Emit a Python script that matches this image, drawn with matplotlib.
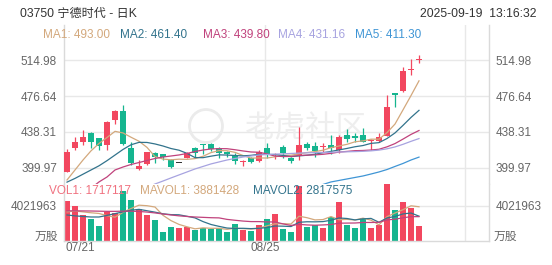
import numpy as np
import matplotlib
matplotlib.use('Agg')
import matplotlib.pyplot as plt
from matplotlib.patches import Circle

plt.rcParams['font.family'] = ['Liberation Sans', 'Noto Sans CJK SC', 'DejaVu Sans']

# ---------------- data ----------------
title = '03750 宁德时代 - 日K'
timestamp = '2025-09-19  13:16:32'
date_labels = ['07/21', '08/25']
date_index = [0, 25]

opens = [395.0, 421.4, 427.2, 437.5, 431.4, 424.3, 451.0, 460.7, 420.7, 399.1,
         403.6, 416.0, 414.3, 408.2, 405.3, 410.7, 420.7, 425.0, 425.0, 421.1,
         417.1, 413.9, 405.7, 410.0, 406.6, 421.4, 412.0, 421.8, 410.7, 413.6,
         425.0, 423.2, 422.1, 424.3, 419.0, 435.0, 434.2, 435.0, 428.6, 428.9,
         434.2, 479.6, 482.4, 505.1, 515.8]
highs = [420.0, 433.2, 440.3, 438.5, 432.0, 450.0, 461.8, 467.1, 427.8, 408.2,
         417.1, 417.1, 414.3, 409.0, 405.3, 417.1, 422.5, 425.3, 426.1, 422.1,
         418.0, 415.2, 407.7, 411.7, 419.0, 426.1, 415.4, 424.3, 411.4, 443.9,
         427.2, 427.8, 426.1, 435.0, 435.0, 441.1, 437.6, 442.2, 431.2, 437.6,
         477.8, 479.6, 508.1, 516.4, 520.6]
lows = [395.0, 419.0, 424.3, 421.0, 419.0, 419.0, 446.4, 424.3, 402.9, 397.5,
        402.9, 404.7, 408.2, 400.0, 405.3, 410.0, 410.0, 414.6, 417.8, 410.0,
        411.4, 403.9, 401.3, 405.0, 406.1, 410.4, 409.3, 410.0, 404.7, 408.2,
        419.0, 411.7, 417.1, 414.3, 415.4, 427.8, 427.8, 427.0, 419.0, 427.0,
        434.0, 465.3, 481.4, 499.2, 511.7]
closes = [417.1, 427.8, 433.2, 427.8, 423.5, 449.2, 460.7, 425.0, 404.7, 401.8,
          416.5, 411.4, 411.4, 401.0, 405.3, 415.4, 415.4, 424.0, 420.3, 416.2,
          414.6, 406.8, 407.1, 406.4, 417.1, 414.3, 413.0, 415.2, 407.1, 424.3,
          421.4, 417.8, 422.9, 420.7, 433.2, 430.4, 431.4, 427.8, 429.6, 433.2,
          465.3, 477.8, 503.5, 506.2, 516.9]

nan = np.nan
ma1 = [386.8, 397.5, 408.2, 418.0, 425.9, 432.3, 438.9, 437.2, 432.6, 428.3,
       421.7, 411.9, 409.2, 408.4, 409.1, 408.9, 409.7, 412.2, 416.1, 418.3,
       418.1, 416.4, 413.0, 410.2, 410.4, 410.3, 411.6, 413.2, 413.3, 414.8,
       416.2, 417.2, 418.7, 421.4, 423.2, 425.0, 427.7, 428.7, 430.5, 430.5,
       437.5, 446.7, 461.9, 477.2, 493.0]
ma2 = [384.5, 388.5, 393.0, 397.5, 402.0, 407.5, 413.5, 419.5, 424.5, 427.1,
       427.0, 425.4, 423.2, 420.5, 418.7, 415.3, 410.8, 410.7, 412.3, 413.7,
       413.5, 413.0, 412.6, 413.2, 414.3, 414.2, 414.0, 413.1, 411.8, 412.6,
       413.3, 414.4, 416.0, 417.4, 419.0, 420.6, 422.4, 423.7, 426.0, 426.8,
       431.2, 437.2, 445.3, 453.8, 461.4]
ma3 = [nan, nan, nan, 378.0, 384.7, 390.0, 397.5, 400.7, 403.4, 405.5,
       407.7, 409.8, 411.4, 412.5, 413.6, 415.2, 417.3, 418.9, 420.0, 420.4,
       420.3, 419.2, 417.9, 416.8, 416.5, 414.8, 412.4, 411.9, 412.0, 413.1,
       413.4, 413.7, 414.3, 415.3, 416.7, 417.4, 418.2, 418.4, 418.9, 419.7,
       422.3, 425.8, 430.6, 435.6, 439.8]
ma4 = [nan, nan, nan, nan, nan, nan, nan, nan, nan, nan,
       379.0, 382.5, 385.7, 389.0, 392.2, 395.4, 398.6, 401.3, 404.0, 406.1,
       408.2, 409.8, 411.4, 412.5, 413.6, 414.1, 414.5, 414.8, 415.2, 415.6,
       415.9, 416.1, 416.3, 416.5, 416.8, 417.0, 417.2, 417.5, 418.0, 418.8,
       420.2, 422.2, 425.0, 428.2, 431.16]
ma5 = [nan] * 30 + [377.5, 380.0, 382.0, 384.7, 386.3, 387.9, 389.5, 391.1,
                    393.2, 395.4, 398.0, 401.3, 404.5, 408.2, 411.3]

ma_names = ['MA1', 'MA2', 'MA3', 'MA4', 'MA5']
ma_last = ['493.00', '461.40', '439.80', '431.16', '411.30']

volumes = [4530000, 3970000, 2950000, 2460000, 1700000, 3250000, 3140000, 5660000,
           4650000, 3590000, 2950000, 2380000, 990000, 1620000, 1440000, 1620000,
           1250000, 1510000, 1360000, 1440000, 1060000, 1890000, 1250000, 1170000,
           1810000, 2460000, 3060000, 1320000, 980000, 6230000, 1620000, 1810000,
           1510000, 2680000, 4450000, 1810000, 1440000, 2570000, 1510000, 1810000,
           6460000, 3510000, 4450000, 3700000, 1717117]
mavol1 = [3.30, 3.40, 3.30, 3.20, 3.12, 2.87, 2.70, 3.24, 3.68, 4.06,
          4.00, 3.85, 2.91, 2.31, 1.88, 1.61, 1.38, 1.49, 1.44, 1.44,
          1.32, 1.45, 1.40, 1.36, 1.44, 1.72, 1.95, 1.96, 1.93, 2.81,
          2.64, 2.39, 2.43, 2.77, 2.41, 2.45, 2.38, 2.59, 2.36, 1.83,
          2.76, 3.17, 3.55, 3.99, 3.881428]
mavol2 = [2.95, 2.85, 2.78, 2.72, 2.72, 2.90, 3.10, 3.30, 3.48, 3.59,
          3.43, 3.27, 3.08, 2.99, 2.97, 2.80, 2.62, 2.20, 1.87, 1.66,
          1.47, 1.42, 1.44, 1.40, 1.44, 1.52, 1.70, 1.68, 1.64, 2.12,
          2.18, 2.17, 2.20, 2.35, 2.61, 2.55, 2.39, 2.51, 2.56, 2.12,
          2.61, 2.78, 3.07, 3.17, 2.817575]
mavol3 = [3.42, 3.42, 3.41, 3.40, 3.38, 3.36, 3.36, 3.38, 3.38, 3.35,
          3.28, 3.18, 3.06, 2.95, 2.85, 2.78, 2.72, 2.68, 2.64, 2.62,
          2.45, 2.35, 2.26, 2.20, 2.20, 2.16, 2.16, 1.94, 1.76, 1.89,
          1.82, 1.79, 1.82, 1.87, 2.02, 2.03, 2.04, 2.10, 2.10, 2.12,
          2.39, 2.47, 2.63, 2.76, 2.76]
vol_labels = ['VOL1: 1717117', 'MAVOL1: 3881428', 'MAVOL2: 2817575']

price_ticks = [399.97, 438.31, 476.64, 514.98]
vol_tick = 4021963

# ---------------- style ----------------
UP = '#f2475f'
DOWN = '#15b58f'
FLAT = '#333333'
MA_COLORS = ['#d3a87c', '#32738c', '#c0427c', '#a7a3e0', '#3f95d5']
VOL_MA_COLORS = ['#d3a87c', '#32738c', '#c0427c']
GRID = '#e8e8e8'
SPINE = '#dadada'
TXT = '#666666'

W, H = 552, 265
fig = plt.figure(figsize=(W / 100, H / 100), dpi=100)


def rect(x0, y0, x1, y1):
    return [x0 / W, 1 - y1 / H, (x1 - x0) / W, (y1 - y0) / H]


ax = fig.add_axes(rect(64, 25, 489, 184))
axv = fig.add_axes(rect(64, 184, 489, 241), sharex=ax)

x = np.arange(len(closes))
o = np.array(opens); c = np.array(closes)
hi = np.array(highs); lo = np.array(lows)
cols = [UP if cc > oo else (DOWN if cc < oo else FLAT) for oo, cc in zip(o, c)]
vcols = [UP if cc >= oo else DOWN for oo, cc in zip(o, c)]

# grid
for t in price_ticks:
    ax.axhline(t, color=GRID, lw=1, zorder=0)
axv.axhline(vol_tick, color=GRID, lw=1, zorder=0)
for d in date_index[1:] + [50]:
    ax.axvline(d - 0.25, color=GRID, lw=1, zorder=0)
    axv.axvline(d - 0.25, color=GRID, lw=1, zorder=0)

# watermark
ax.text(0.57, 0.345, '老虎社区', transform=ax.transAxes, fontsize=22,
        color='#eeeeee', family=['Noto Sans CJK SC'], ha='center', va='center', zorder=0.5)
ax.add_patch(Circle((2.06, (H - 126) / 100), 0.165, transform=fig.dpi_scale_trans,
                    fill=False, ec='#ebebeb', lw=2, zorder=0.5))

# candles
ax.vlines(x, lo, hi, colors=cols, lw=0.9, zorder=2)
ax.bar(x, np.maximum(np.abs(c - o), 1.0), bottom=np.minimum(o, c), width=0.75,
       color=cols, zorder=3, linewidth=0)

for ma, col in zip([ma1, ma2, ma3, ma4, ma5], MA_COLORS):
    ax.plot(x, ma, color=col, lw=0.9, zorder=4)

# volume
axv.bar(x, volumes, width=0.75, color=vcols, linewidth=0, zorder=2)
for mv, col in zip([mavol1, mavol2, mavol3], VOL_MA_COLORS):
    axv.plot(x, np.array(mv) * 1e6, color=col, lw=0.9, zorder=3)

# limits
ax.set_xlim(-0.375, 52.75)
ax.set_ylim(382.5, 552.8)
axv.set_ylim(0, 6.46e6)

for a in (ax, axv):
    for s in a.spines.values():
        s.set_color(SPINE)
        s.set_linewidth(1)
    a.spines['top'].set_visible(False)
    a.tick_params(axis='both', length=0, labelsize=8.5, labelcolor=TXT)
    a.set_xticks([])
ax.spines['bottom'].set_visible(False)

ax.set_yticks(price_ticks)
ax.set_yticklabels([f'{t:.2f}' for t in price_ticks])
ax.tick_params(axis='y', labelleft=True, labelright=True, pad=5)
axv.set_yticks([vol_tick])
axv.set_yticklabels([str(vol_tick)])
axv.tick_params(axis='y', labelleft=True, labelright=True, pad=5)

# unit labels
fig.text(58 / W, 1 - 236.5 / H, '万股', ha='right', va='center', fontsize=8.5, color=TXT)
fig.text(494 / W, 1 - 236.5 / H, '万股', ha='left', va='center', fontsize=8.5, color=TXT)

# date labels
for i, (lab, d) in enumerate(zip(date_labels, date_index)):
    axv.text(d - 0.25, -0.13, lab, transform=axv.get_xaxis_transform(),
             ha='left' if i == 0 else 'center', va='center', fontsize=8.5, color=TXT)

# header texts
fig.text(20 / W, 1 - 14 / H, title, ha='left', va='center', fontsize=8.7, color='#333333')
fig.text(536 / W, 1 - 14 / H, timestamp, ha='right', va='center', fontsize=8.7, color='#333333')
ma_x = [43, 120, 203, 278, 355]
for name, val, col, px in zip(ma_names, ma_last, MA_COLORS, ma_x):
    fig.text(px / W, 1 - 35.5 / H, f'{name}: {val}', ha='left', va='center',
             fontsize=8.5, color=col)
vol_x = [49, 140, 253]
vol_cols = ['#f0707f', '#d3a87c', '#32738c']
for lab, col, px in zip(vol_labels, vol_cols, vol_x):
    fig.text(px / W, 1 - 190.5 / H, lab, ha='left', va='center', fontsize=8.5, color=col)

fig.savefig('out.png', dpi=100)
